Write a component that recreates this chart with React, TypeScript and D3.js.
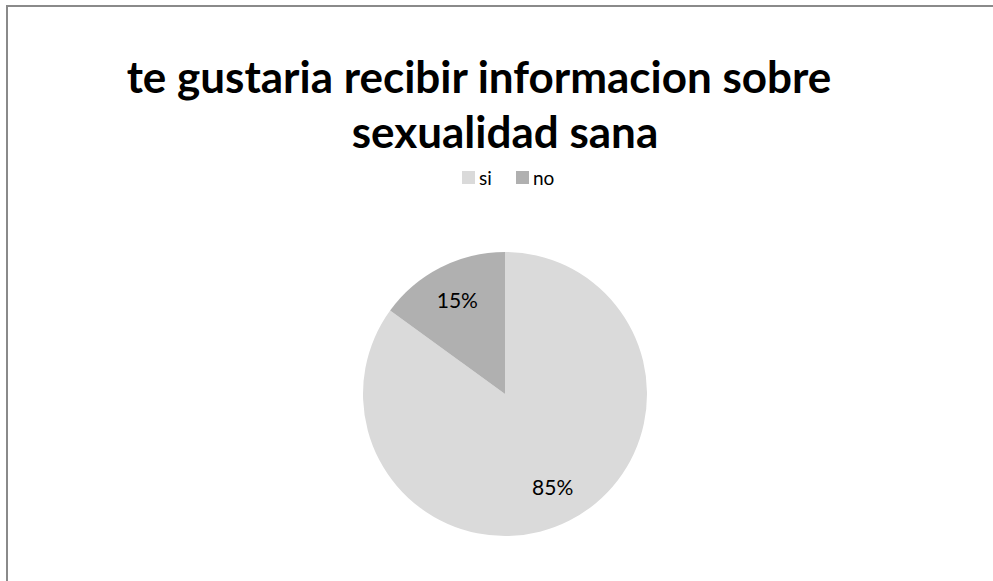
import { useEffect, useRef } from 'react';
import * as d3 from 'd3';

// Pie of answers to "te gustaria recibir informacion sobre sexualidad sana"
const CATEGORIES = ['si', 'no'];
const PERCENTS = [85, 15];
const COLORS = ['#DADADA', '#B0B0B0'];
const TITLE_LINES = ['te gustaria recibir informacion sobre', 'sexualidad sana'];

const WIDTH = 993;
const HEIGHT = 581;
const FONT = 'Lato, "Open Sans", sans-serif';

type Slice = { name: string; value: number; color: string };

export default function App() {
  const svgRef = useRef<SVGSVGElement>(null);

  useEffect(() => {
    const svg = d3.select(svgRef.current);
    svg.selectAll('*').remove();

    const data: Slice[] = CATEGORIES.map((name, i) => ({
      name,
      value: PERCENTS[i],
      color: COLORS[i],
    }));

    // chart frame — only left and top edges are inside the crop
    svg.append('path')
      .attr('d', `M 7 ${HEIGHT} L 7 6 L ${WIDTH} 6`)
      .attr('fill', 'none')
      .attr('stroke', '#8A8A8A')
      .attr('stroke-width', 2);

    const cx = 505;
    const titleG = svg.append('g').attr('font-family', FONT).attr('font-weight', 700)
      .attr('font-size', 44).attr('fill', '#000').attr('text-anchor', 'middle');
    TITLE_LINES.forEach((line, i) => {
      titleG.append('text').attr('x', 479 + i * 26).attr('y', 93 + i * 55).text(line);
    });

    // legend
    const legend = svg.append('g').attr('font-family', FONT).attr('font-size', 19);
    const legendX = [462, 516];
    data.forEach((d, i) => {
      const g = legend.append('g').attr('transform', `translate(${legendX[i]},171)`);
      g.append('rect').attr('width', 13).attr('height', 13).attr('fill', d.color);
      g.append('text').attr('x', 17).attr('y', 14).attr('fill', '#000').text(d.name);
    });

    // pie
    const radius = 142;
    const cy = 394;
    const pie = d3.pie<Slice>().value((d) => d.value).sort(null);
    const arc = d3.arc<d3.PieArcDatum<Slice>>().innerRadius(0).outerRadius(radius);
    const labelArc = d3.arc<d3.PieArcDatum<Slice>>().innerRadius(radius * 0.74).outerRadius(radius * 0.74);
    const g = svg.append('g').attr('transform', `translate(${cx},${cy})`);
    const arcs = pie(data);
    g.selectAll('path.slice')
      .data(arcs)
      .join('path')
      .attr('class', 'slice')
      .attr('d', arc)
      .attr('fill', (d) => d.data.color);

    g.selectAll('text.label')
      .data(arcs)
      .join('text')
      .attr('class', 'label')
      .attr('transform', (d) => `translate(${labelArc.centroid(d)})`)
      .attr('text-anchor', 'middle')
      .attr('dy', '0.35em')
      .attr('font-family', FONT)
      .attr('font-size', 21)
      .attr('fill', '#000')
      .text((d) => `${d.data.value}%`);
  }, []);

  return (
    <svg
      ref={svgRef}
      width={WIDTH}
      height={HEIGHT}
      style={{ position: 'absolute', left: 0, top: 0, background: '#fff' }}
    />
  );
}
